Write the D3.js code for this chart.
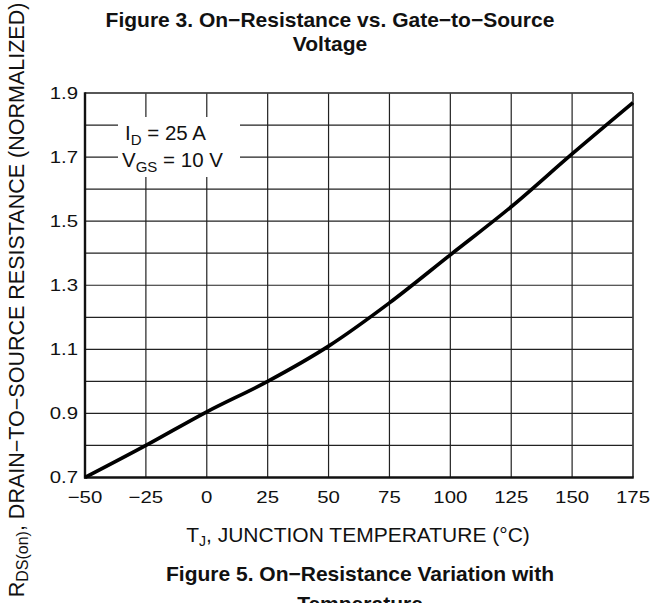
<!DOCTYPE html>
<html>
<head>
<meta charset="utf-8">
<script src="https://cdn.jsdelivr.net/npm/d3@7"></script>
<style>
  html, body { margin: 0; padding: 0; background: #fff; }
  svg { display: block; font-family: "Liberation Sans", Arial, Helvetica, sans-serif; }
</style>
</head>
<body>
<script>
// Data
const temperatures = [-50, -25, 0, 25, 50, 75, 100, 125, 150, 175];
const resistance   = [0.70, 0.80, 0.905, 1.00, 1.11, 1.245, 1.395, 1.545, 1.71, 1.87];
const xTicks = [-50, -25, 0, 25, 50, 75, 100, 125, 150, 175];
const yTicks = [0.7, 0.9, 1.1, 1.3, 1.5, 1.7, 1.9];
const yGrid = [0.7, 0.8, 0.9, 1.0, 1.1, 1.2, 1.3, 1.4, 1.5, 1.6, 1.7, 1.8, 1.9];

(function () {
const W = 652, H = 603;
const svg = d3.select("body").append("svg").attr("width", W).attr("height", H);

const pL = 85, pR = 633, pT = 93, pB = 477.5;
const x = d3.scaleLinear().domain([-50, 175]).range([pL, pR]);
const y = d3.scaleLinear().domain([0.7, 1.9]).range([pB, pT]);

const fmtX = d => d < 0 ? "\u2212" + Math.abs(d) : String(d);

// grid
const g = svg.append("g");
g.selectAll("line.v").data(xTicks).join("line")
  .attr("x1", d => x(d)).attr("x2", d => x(d))
  .attr("y1", pT).attr("y2", pB)
  .attr("stroke", "#222").attr("stroke-width", 1.2);
g.selectAll("line.h").data(yGrid).join("line")
  .attr("x1", pL).attr("x2", pR)
  .attr("y1", d => y(d)).attr("y2", d => y(d))
  .attr("stroke", "#222").attr("stroke-width", 1.2);

// annotation box (white knockout)
svg.append("rect").attr("x", 118).attr("y", 117).attr("width", 122).attr("height", 60).attr("fill", "#fff");
const l1 = svg.append("text").attr("font-size", 20.5).attr("fill", "#111").attr("x", 125).attr("y", 140);
l1.append("tspan").text("I");
l1.append("tspan").attr("font-size", 15).attr("dy", 5).text("D");
l1.append("tspan").attr("dy", -5).text(" = 25 A");
const l2 = svg.append("text").attr("font-size", 20.5).attr("fill", "#111").attr("x", 122).attr("y", 167);
l2.append("tspan").text("V");
l2.append("tspan").attr("font-size", 15).attr("dy", 5).text("GS");
l2.append("tspan").attr("dy", -5).text(" = 10 V");

// border
svg.append("line").attr("x1", pL).attr("x2", pR).attr("y1", pT).attr("y2", pT).attr("stroke", "#444").attr("stroke-width", 1.4);
svg.append("line").attr("x1", pR).attr("x2", pR).attr("y1", pT).attr("y2", pB).attr("stroke", "#444").attr("stroke-width", 1.4);
svg.append("line").attr("x1", pL).attr("x2", pL).attr("y1", pT - 0.7).attr("y2", pB + 1).attr("stroke", "#111").attr("stroke-width", 2.4);
svg.append("line").attr("x1", pL - 1).attr("x2", pR + 0.7).attr("y1", pB).attr("y2", pB).attr("stroke", "#111").attr("stroke-width", 2.4);

// curve
const pts = temperatures.map((t, i) => [t, resistance[i]]);
svg.append("path").datum(pts)
  .attr("fill", "none").attr("stroke", "#000").attr("stroke-width", 3.6)
  .attr("d", d3.line().x(d => x(d[0])).y(d => y(d[1])).curve(d3.curveMonotoneX));

// tick labels (slightly wide glyphs as in the reference)
svg.selectAll("text.xt").data(xTicks).join("text")
  .attr("transform", d => `translate(${x(d)},503) scale(1.2,1)`)
  .attr("text-anchor", "middle").attr("font-size", 17).attr("fill", "#111")
  .text(fmtX);
svg.selectAll("text.yt").data(yTicks).join("text")
  .attr("transform", d => `translate(78,${y(d) + 5.5}) scale(1.2,1)`)
  .attr("text-anchor", "end").attr("font-size", 17).attr("fill", "#111")
  .text(d => d.toFixed(1));

// titles
svg.append("text").attr("x", 330).attr("y", 27).attr("text-anchor", "middle")
  .attr("font-size", 21).attr("font-weight", "bold").attr("fill", "#111")
  .text("Figure 3. On\u2212Resistance vs. Gate\u2212to\u2212Source");
svg.append("text").attr("x", 330).attr("y", 51).attr("text-anchor", "middle")
  .attr("font-size", 21).attr("font-weight", "bold").attr("fill", "#111")
  .text("Voltage");

const xl = svg.append("text").attr("x", 358).attr("y", 542).attr("text-anchor", "middle")
  .attr("font-size", 21).attr("fill", "#111");
xl.append("tspan").text("T");
xl.append("tspan").attr("font-size", 14).attr("dy", 4).text("J");
xl.append("tspan").attr("dy", -4).text(", JUNCTION TEMPERATURE (\u00B0C)");

svg.append("text").attr("x", 360).attr("y", 581).attr("text-anchor", "middle")
  .attr("font-size", 21).attr("font-weight", "bold").attr("fill", "#111")
  .text("Figure 5. On\u2212Resistance Variation with");
svg.append("text").attr("x", 360).attr("y", 611).attr("text-anchor", "middle")
  .attr("font-size", 21).attr("font-weight", "bold").attr("fill", "#111")
  .text("Temperature");

// y axis label
const yl = svg.append("text").attr("transform", "translate(23.5,300) rotate(-90)")
  .attr("text-anchor", "middle").attr("font-size", 21.5).attr("fill", "#111");
yl.append("tspan").text("R");
yl.append("tspan").attr("font-size", 16).attr("dy", 4).text("DS(on)");
yl.append("tspan").attr("dy", -4).text(", DRAIN\u2212TO\u2212SOURCE RESISTANCE (NORMALIZED)");
})();
</script>
</body>
</html>
